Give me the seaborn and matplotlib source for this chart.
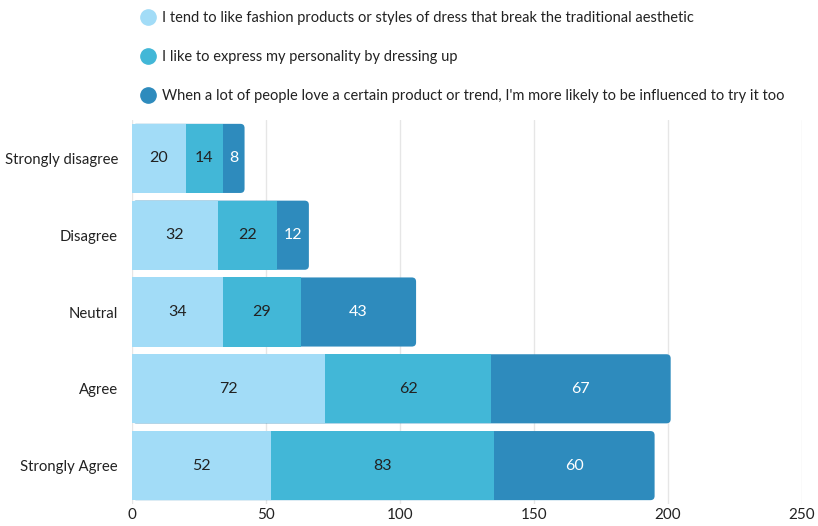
import numpy as np
import pandas as pd
import seaborn as sns
import matplotlib.pyplot as plt
from matplotlib.lines import Line2D
from matplotlib.patches import FancyBboxPatch

# 数据
categories = ['Strongly disagree', 'Disagree', 'Neutral', 'Agree', 'Strongly Agree']
series_names = [
    'I tend to like fashion products or styles of dress that break the traditional aesthetic',
    'I like to express my personality by dressing up',
    "When a lot of people love a certain product or trend, I'm more likely to be influenced to try it too",
]
break_tradition = [20, 32, 34, 72, 52]
express_personality = [14, 22, 29, 62, 83]
influenced = [8, 12, 43, 67, 60]
colors = ['#a2dcf7', '#42b7d7', '#2e8bbd']
text_colors = ['#222222', '#222222', '#ffffff']

sns.set_style('white')
plt.rcParams['font.family'] = ['Lato', 'DejaVu Sans']

series = [break_tradition, express_personality, influenced]
df = pd.DataFrame({'category': categories})
for name, vals in zip(series_names, series):
    df[name] = vals

fig = plt.figure(figsize=(8.18, 5.26), dpi=100)
ax = fig.add_axes([132 / 818, 1 - 504 / 526, 670 / 818, 384 / 526])

# 反向绘制累计值，实现堆叠效果
cum = np.cumsum(np.array(series), axis=0)
for i in range(len(series) - 1, -1, -1):
    sns.barplot(x=cum[i], y=categories, color=colors[i], orient='h',
                width=0.9, saturation=1, linewidth=0, ax=ax)
    if i == len(series) - 1:
        # 最外层的条形做成圆角
        for p in list(ax.patches):
            x0, y0 = p.get_x(), p.get_y()
            w, h = p.get_width(), p.get_height()
            rb = FancyBboxPatch((x0, y0), w, h,
                                boxstyle='round,pad=0,rounding_size=1.6',
                                mutation_aspect=0.034, facecolor=colors[i],
                                edgecolor='none', zorder=p.get_zorder())
            p.remove()
            ax.add_patch(rb)

for i, vals in enumerate(series):
    left = cum[i] - np.array(vals)
    for j, v in enumerate(vals):
        ax.text(left[j] + v / 2, j, str(v), ha='center', va='center',
                fontsize=11.5, color=text_colors[i])

ax.set_xlim(0, 250)
ax.set_ylim(4.5, -0.5)
ax.set_xticks([0, 50, 100, 150, 200, 250])
ax.xaxis.grid(True, color='#e6e6e6', linewidth=1)
ax.set_axisbelow(True)
for s in ax.spines.values():
    s.set_visible(False)
ax.tick_params(axis='both', length=0, labelsize=11, colors='#222222')
ax.tick_params(axis='y', labelsize=10.7, pad=10)
ax.tick_params(axis='x', pad=3)
ax.set_xlabel('')
ax.set_ylabel('')

handles = [Line2D([], [], marker='o', linestyle='', markersize=11,
                  markerfacecolor=c, markeredgecolor=c) for c in colors]
fig.legend(handles, series_names, loc='upper left',
           bbox_to_anchor=(128 / 818, 1 + 2 / 526), frameon=False,
           fontsize=10.5, labelspacing=1.72, handletextpad=0.4,
           handlelength=1.0, labelcolor='#222222')

fig.savefig('out.png', dpi=100)
